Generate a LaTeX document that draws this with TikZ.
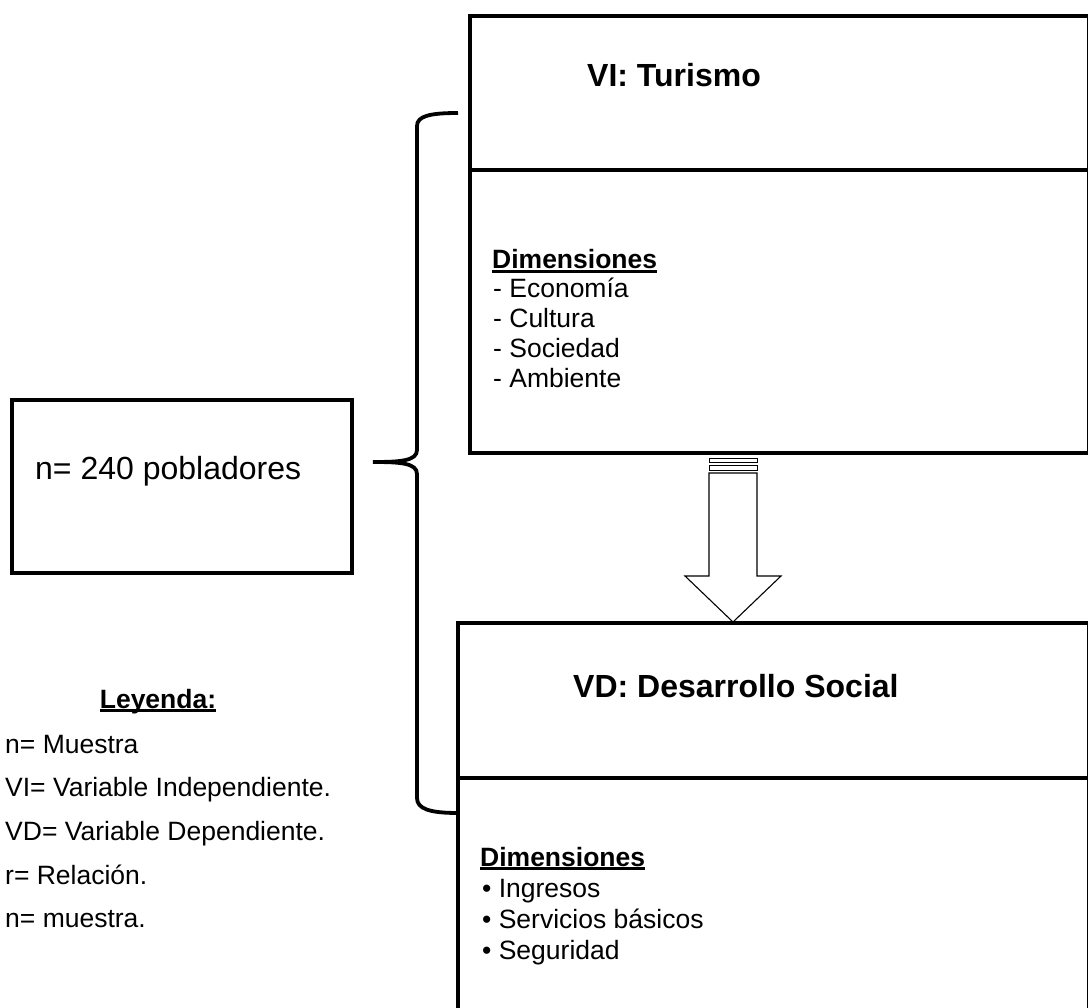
\documentclass[tikz,border=0pt]{standalone}
\usepackage{fontspec}
\setmainfont{Liberation Sans}
\usetikzlibrary{positioning}

\newcommand{\undl}[1]{\setbox0\hbox{#1}\rlap{\rule[-4pt]{\wd0}{2.6pt}}\box0}

\begin{document}
\begin{tikzpicture}[
    x=1pt, y=-1pt,
    box/.style={draw, line width=3.6pt, outer sep=0pt, inner sep=0pt, anchor=north west},
    txt/.style={anchor=base west, inner sep=0pt, font=\fontsize{26.5}{30}\selectfont},
    head/.style={anchor=base west, inner sep=0pt, font=\fontsize{32}{36}\selectfont\bfseries},
    brace/.style={draw, line width=3.8pt},
    blockarrow/.style={draw, line width=1.1pt, fill=white}
]
\useasboundingbox (0,0) rectangle (1088,1008);

% cajas
\node[box, minimum width=340pt, minimum height=173pt] (muestra) at (12,400) {};
\node[box, minimum width=619pt, minimum height=437pt] (vi) at (470,16) {};
\node[box, minimum width=631pt, minimum height=400pt] (vd) at (458,623) {};
\draw[line width=3.6pt] (vi.west |- 0,170) -- (vi.east |- 0,170);
\draw[line width=3.6pt] (vd.west |- 0,778) -- (vd.east |- 0,778);

% llave
\coordinate (bt) at (458,113);
\coordinate (tip) at (373,462);
\coordinate (bb) at (458,813);
\draw[brace] (bt) .. controls (430,113) and (417,116) .. (417,126)
    -- (417,450) .. controls (417,461) and (400,462) .. (tip)
    .. controls (400,462) and (417,463) .. (417,474)
    -- (417,798) .. controls (417,809) and (430,813) .. (bb);

% flecha
\draw[line width=1pt] (709,459) rectangle (757,463);
\draw[line width=1pt] (709,465.5) rectangle (757,471);
\draw[blockarrow] (709,473) -- (757,473) -- (757,576) -- (781,576)
    -- (733,622) -- (685,576) -- (709,576) -- cycle;

% textos
\node[head] (vitit) at (587,87) {VI: Turismo};
\node[head] (vdtit) at (573,697) {VD: Desarrollo Social};
\node[txt, font=\fontsize{32}{36}\selectfont] (ntxt) at (35,479) {n= 240 pobladores};

\node[txt, font=\fontsize{26.5}{30}\selectfont\bfseries] (dimvi) at (492,269) {\undl{Dimensiones}};
\node[txt] (eco) at (493,298) {- Economía};
\node[txt] (cul) at (493,328) {- Cultura};
\node[txt] (soc) at (493,358) {- Sociedad};
\node[txt] (amb) at (493,388) {- Ambiente};

\node[txt, font=\fontsize{26.5}{30}\selectfont\bfseries] (dimvd) at (480,866) {\undl{Dimensiones}};
\node[txt] (ing) at (482,897) {• Ingresos};
\node[txt] (ser) at (482,928) {• Servicios básicos};
\node[txt] (seg) at (482,959) {• Seguridad};

% leyenda
\node[txt, anchor=base, font=\fontsize{26.5}{30}\selectfont\bfseries] (ley) at (158,708) {\undl{Leyenda:}};
\node[txt] (l1) at (5,753) {n= Muestra};
\node[txt] (l2) at (5,796) {VI= Variable Independiente.};
\node[txt] (l3) at (5,840) {VD= Variable Dependiente.};
\node[txt] (l4) at (5,884) {r= Relación.};
\node[txt] (l5) at (5,927) {n= muestra.};
\end{tikzpicture}
\end{document}
